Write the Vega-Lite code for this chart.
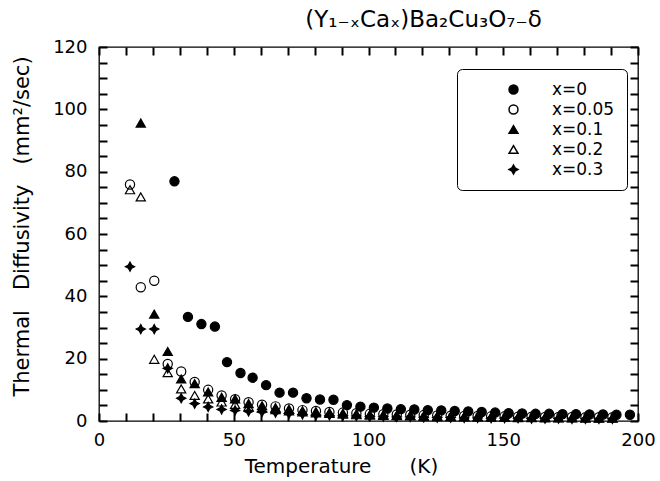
{
  "$schema": "https://vega.github.io/schema/vega-lite/v6.json",
  "width": 539,
  "height": 374,
  "autosize": {"type": "none"},
  "padding": {"left": 99, "top": 47, "right": 22, "bottom": 60},
  "background": "white",
  "config": {
    "font": "DejaVu Sans",
    "view": {"stroke": "black", "strokeWidth": 1.3},
    "axis": {"labelFontSize": 18, "labelColor": "black", "labelFont": "DejaVu Sans", "labelFlush": false, "tickWidth": 2, "domain": false, "grid": false, "titleColor": "black", "titleFont": "DejaVu Sans", "titleFontWeight": "normal"}
  },
  "title": {"text": "(Y₁₋ₓCaₓ)Ba₂Cu₃O₇₋δ", "font": "DejaVu Sans", "fontSize": 23, "fontWeight": "normal", "color": "black", "anchor": "middle", "dx": 55, "offset": 6},
  "data": {"values": [
    {"s":"x=0.05","T":11.5,"D":75.9},{"s":"x=0.05","T":15.5,"D":42.9},{"s":"x=0.05","T":20.5,"D":45.0},{"s":"x=0.05","T":25.5,"D":18.3},{"s":"x=0.05","T":30.5,"D":15.9},{"s":"x=0.05","T":35.5,"D":12.5},{"s":"x=0.05","T":40.5,"D":10.0},{"s":"x=0.05","T":45.5,"D":8.2},{"s":"x=0.05","T":50.5,"D":7.0},{"s":"x=0.05","T":55.5,"D":6.0},{"s":"x=0.05","T":60.5,"D":5.2},{"s":"x=0.05","T":65.5,"D":4.7},{"s":"x=0.05","T":70.5,"D":4.0},{"s":"x=0.05","T":75.5,"D":3.5},{"s":"x=0.05","T":80.5,"D":3.2},{"s":"x=0.05","T":85.5,"D":2.9},{"s":"x=0.05","T":90.5,"D":2.7},{"s":"x=0.05","T":95.5,"D":2.5},{"s":"x=0.05","T":100.5,"D":2.3},{"s":"x=0.05","T":105.5,"D":2.2},{"s":"x=0.05","T":110.5,"D":2.1},{"s":"x=0.05","T":115.5,"D":2.0},{"s":"x=0.05","T":120.5,"D":1.9},{"s":"x=0.05","T":125.5,"D":1.8},{"s":"x=0.05","T":130.5,"D":1.7},{"s":"x=0.05","T":135.5,"D":1.6},{"s":"x=0.05","T":140.5,"D":1.6},{"s":"x=0.05","T":145.5,"D":1.5},{"s":"x=0.05","T":150.5,"D":1.5},{"s":"x=0.05","T":155.5,"D":1.4},{"s":"x=0.05","T":160.5,"D":1.4},{"s":"x=0.05","T":165.5,"D":1.3},{"s":"x=0.05","T":170.5,"D":1.3},{"s":"x=0.05","T":175.5,"D":1.3},{"s":"x=0.05","T":180.5,"D":1.2},{"s":"x=0.05","T":185.5,"D":1.2},{"s":"x=0.05","T":190.5,"D":1.2},
    {"s":"x=0.1","T":15.5,"D":95.6},{"s":"x=0.1","T":20.5,"D":34.3},{"s":"x=0.1","T":25.5,"D":22.3},{"s":"x=0.1","T":30.5,"D":13.5},{"s":"x=0.1","T":35.5,"D":12.0},{"s":"x=0.1","T":40.5,"D":9.3},{"s":"x=0.1","T":45.5,"D":7.6},{"s":"x=0.1","T":50.5,"D":7.1},{"s":"x=0.1","T":55.5,"D":5.6},{"s":"x=0.1","T":60.5,"D":4.9},{"s":"x=0.1","T":65.5,"D":4.3},{"s":"x=0.1","T":70.5,"D":3.8},{"s":"x=0.1","T":75.5,"D":3.3},{"s":"x=0.1","T":80.5,"D":3.0},{"s":"x=0.1","T":85.5,"D":2.7},{"s":"x=0.1","T":90.5,"D":2.5},{"s":"x=0.1","T":95.5,"D":2.3},{"s":"x=0.1","T":100.5,"D":2.1},{"s":"x=0.1","T":105.5,"D":2.0},{"s":"x=0.1","T":110.5,"D":1.9},{"s":"x=0.1","T":115.5,"D":1.8},{"s":"x=0.1","T":120.5,"D":1.7},{"s":"x=0.1","T":125.5,"D":1.6},{"s":"x=0.1","T":130.5,"D":1.5},{"s":"x=0.1","T":135.5,"D":1.5},{"s":"x=0.1","T":140.5,"D":1.4},{"s":"x=0.1","T":145.5,"D":1.4},{"s":"x=0.1","T":150.5,"D":1.3},{"s":"x=0.1","T":155.5,"D":1.3},{"s":"x=0.1","T":160.5,"D":1.2},{"s":"x=0.1","T":165.5,"D":1.2},{"s":"x=0.1","T":170.5,"D":1.1},{"s":"x=0.1","T":175.5,"D":1.1},{"s":"x=0.1","T":180.5,"D":1.1},{"s":"x=0.1","T":185.5,"D":1.0},{"s":"x=0.1","T":190.5,"D":1.0},
    {"s":"x=0.2","T":11.5,"D":74.2},{"s":"x=0.2","T":15.5,"D":71.9},{"s":"x=0.2","T":20.5,"D":19.8},{"s":"x=0.2","T":25.5,"D":15.5},{"s":"x=0.2","T":30.5,"D":10.3},{"s":"x=0.2","T":35.5,"D":8.2},{"s":"x=0.2","T":40.5,"D":7.1},{"s":"x=0.2","T":45.5,"D":6.1},{"s":"x=0.2","T":50.5,"D":5.3},{"s":"x=0.2","T":55.5,"D":4.6},{"s":"x=0.2","T":60.5,"D":4.1},{"s":"x=0.2","T":65.5,"D":3.6},{"s":"x=0.2","T":70.5,"D":3.2},{"s":"x=0.2","T":75.5,"D":2.9},{"s":"x=0.2","T":80.5,"D":2.6},{"s":"x=0.2","T":85.5,"D":2.4},{"s":"x=0.2","T":90.5,"D":2.2},{"s":"x=0.2","T":95.5,"D":2.0},{"s":"x=0.2","T":100.5,"D":1.9},{"s":"x=0.2","T":105.5,"D":1.8},{"s":"x=0.2","T":110.5,"D":1.7},{"s":"x=0.2","T":115.5,"D":1.6},{"s":"x=0.2","T":120.5,"D":1.5},{"s":"x=0.2","T":125.5,"D":1.4},{"s":"x=0.2","T":130.5,"D":1.4},{"s":"x=0.2","T":135.5,"D":1.3},{"s":"x=0.2","T":140.5,"D":1.3},{"s":"x=0.2","T":145.5,"D":1.2},{"s":"x=0.2","T":150.5,"D":1.2},{"s":"x=0.2","T":155.5,"D":1.1},{"s":"x=0.2","T":160.5,"D":1.1},{"s":"x=0.2","T":165.5,"D":1.0},{"s":"x=0.2","T":170.5,"D":1.0},{"s":"x=0.2","T":175.5,"D":1.0},{"s":"x=0.2","T":180.5,"D":0.9},{"s":"x=0.2","T":185.5,"D":0.9},{"s":"x=0.2","T":190.5,"D":0.9},
    {"s":"x=0.3","T":11.5,"D":49.5},{"s":"x=0.3","T":15.5,"D":29.5},{"s":"x=0.3","T":20.5,"D":29.5},{"s":"x=0.3","T":25.5,"D":16.9},{"s":"x=0.3","T":30.5,"D":7.3},{"s":"x=0.3","T":35.5,"D":5.6},{"s":"x=0.3","T":40.5,"D":4.5},{"s":"x=0.3","T":45.5,"D":3.7},{"s":"x=0.3","T":50.5,"D":3.4},{"s":"x=0.3","T":55.5,"D":3.1},{"s":"x=0.3","T":60.5,"D":2.9},{"s":"x=0.3","T":65.5,"D":2.7},{"s":"x=0.3","T":70.5,"D":2.4},{"s":"x=0.3","T":75.5,"D":2.1},{"s":"x=0.3","T":80.5,"D":1.9},{"s":"x=0.3","T":85.5,"D":1.8},{"s":"x=0.3","T":90.5,"D":1.7},{"s":"x=0.3","T":95.5,"D":1.6},{"s":"x=0.3","T":100.5,"D":1.5},{"s":"x=0.3","T":105.5,"D":1.4},{"s":"x=0.3","T":110.5,"D":1.3},{"s":"x=0.3","T":115.5,"D":1.3},{"s":"x=0.3","T":120.5,"D":1.2},{"s":"x=0.3","T":125.5,"D":1.1},{"s":"x=0.3","T":130.5,"D":1.1},{"s":"x=0.3","T":135.5,"D":1.0},{"s":"x=0.3","T":140.5,"D":1.0},{"s":"x=0.3","T":145.5,"D":0.9},{"s":"x=0.3","T":150.5,"D":0.9},{"s":"x=0.3","T":155.5,"D":0.9},{"s":"x=0.3","T":160.5,"D":0.8},{"s":"x=0.3","T":165.5,"D":0.8},{"s":"x=0.3","T":170.5,"D":0.8},{"s":"x=0.3","T":175.5,"D":0.7},{"s":"x=0.3","T":180.5,"D":0.7},{"s":"x=0.3","T":185.5,"D":0.7},{"s":"x=0.3","T":190.5,"D":0.7},
    {"s":"x=0","T":28,"D":76.9},{"s":"x=0","T":33,"D":33.4},{"s":"x=0","T":38,"D":31.1},{"s":"x=0","T":43,"D":30.3},{"s":"x=0","T":47.5,"D":18.9},{"s":"x=0","T":52.5,"D":15.4},{"s":"x=0","T":57,"D":13.9},{"s":"x=0","T":62,"D":11.5},{"s":"x=0","T":67,"D":9.1},{"s":"x=0","T":72,"D":9.1},{"s":"x=0","T":77,"D":7.3},{"s":"x=0","T":82,"D":6.9},{"s":"x=0","T":87,"D":6.8},{"s":"x=0","T":92,"D":5.1},{"s":"x=0","T":97,"D":4.6},{"s":"x=0","T":102,"D":4.3},{"s":"x=0","T":107,"D":4.0},{"s":"x=0","T":112,"D":3.8},{"s":"x=0","T":117,"D":3.7},{"s":"x=0","T":122,"D":3.5},{"s":"x=0","T":127,"D":3.4},{"s":"x=0","T":132,"D":3.2},{"s":"x=0","T":137,"D":3.1},{"s":"x=0","T":142,"D":2.9},{"s":"x=0","T":147,"D":2.7},{"s":"x=0","T":152,"D":2.5},{"s":"x=0","T":157,"D":2.4},{"s":"x=0","T":162,"D":2.3},{"s":"x=0","T":167,"D":2.3},{"s":"x=0","T":172,"D":2.2},{"s":"x=0","T":177,"D":2.2},{"s":"x=0","T":182,"D":2.1},{"s":"x=0","T":187,"D":2.1},{"s":"x=0","T":192,"D":2.0},{"s":"x=0","T":197,"D":2.0}
  ]},
  "layer": [
    {
      "mark": {"type": "point", "filled": true, "stroke": "black", "strokeWidth": 1.2, "size": 85, "opacity": 1},
      "encoding": {
        "x": {"field": "T", "type": "quantitative", "scale": {"domain": [0, 200], "nice": false, "zero": false},
              "axis": {"orient": "bottom", "values": [0,10,20,30,40,50,60,70,80,90,100,110,120,130,140,150,160,170,180,190,200], "labelExpr": "datum.value % 50 === 0 ? datum.label : ''", "ticks": true, "tickColor": "black", "tickSize": -8, "labelPadding": 18, "title": "Temperature\u00a0\u00a0\u00a0\u00a0\u00a0\u00a0(K)", "titleFontSize": 20, "titleX": 242, "titleY": 51, "titleBaseline": "alphabetic", "titleAlign": "center"}},
        "y": {"field": "D", "type": "quantitative", "scale": {"domain": [0, 120], "nice": false, "zero": false},
              "axis": {"orient": "left", "values": [0,5,10,15,20,25,30,35,40,45,50,55,60,65,70,75,80,85,90,95,100,105,110,115,120], "labelExpr": "datum.value % 20 === 0 ? datum.label : ''", "ticks": true, "tickColor": "black", "tickSize": -8, "labelPadding": 20, "title": "Thermal\u00a0\u00a0\u00a0Diffusivity\u00a0\u00a0\u00a0(mm²/sec)", "titleFontSize": 21, "titleX": -77, "titleY": 179, "titleBaseline": "middle", "titleAlign": "center", "titleAngle": -90}},
        "shape": {"field": "s", "type": "nominal",
                  "scale": {"domain": ["x=0", "x=0.05", "x=0.1", "x=0.2", "x=0.3"], "range": ["circle", "circle", "triangle-up", "triangle-up", "M0,-1L0.35,-0.35L1,0L0.35,0.35L0,1L-0.35,0.35L-1,0L-0.35,-0.35Z"]},
                  "legend": {"title": null, "orient": "none", "legendX": 358, "legendY": 22, "padding": 12, "strokeColor": "black", "fillColor": "white", "cornerRadius": 5, "symbolOffset": 36, "labelOffset": 30, "labelFont": "DejaVu Sans", "labelFontSize": 17, "labelColor": "black", "rowPadding": 2, "symbolSize": 80, "labelExpr": "datum.label + '\u00a0\u00a0'",
                             "encode": {"symbols": {"update": {"stroke": {"value": "black"}, "strokeWidth": {"value": 1.2}}}}}},
        "fill": {"field": "s", "type": "nominal",
                 "scale": {"domain": ["x=0", "x=0.05", "x=0.1", "x=0.2", "x=0.3"], "range": ["black", "transparent", "black", "transparent", "black"]},
                 "legend": {"title": null, "orient": "none", "legendX": 358, "legendY": 22, "padding": 12, "strokeColor": "black", "fillColor": "white", "cornerRadius": 5, "symbolOffset": 36, "labelOffset": 30, "labelFont": "DejaVu Sans", "labelFontSize": 17, "labelColor": "black", "rowPadding": 2, "symbolSize": 80, "labelExpr": "datum.label + '\u00a0\u00a0'",
                             "encode": {"symbols": {"update": {"stroke": {"value": "black"}, "strokeWidth": {"value": 1.2}}}}}}
      }
    },
    {
      "mark": {"type": "point", "opacity": 0},
      "encoding": {
        "x": {"field": "T", "type": "quantitative", "scale": {"domain": [0, 200], "nice": false, "zero": false},
              "axis": {"orient": "top", "values": [0,10,20,30,40,50,60,70,80,90,100,110,120,130,140,150,160,170,180,190,200], "labels": false, "ticks": true, "tickColor": "black", "tickSize": -8, "title": null}},
        "y": {"field": "D", "type": "quantitative", "scale": {"domain": [0, 120], "nice": false, "zero": false},
              "axis": {"orient": "right", "values": [0,5,10,15,20,25,30,35,40,45,50,55,60,65,70,75,80,85,90,95,100,105,110,115,120], "labels": false, "ticks": true, "tickColor": "black", "tickSize": -8, "title": null}}
      }
    }
  ],
  "resolve": {"axis": {"x": "independent", "y": "independent"}}
}
